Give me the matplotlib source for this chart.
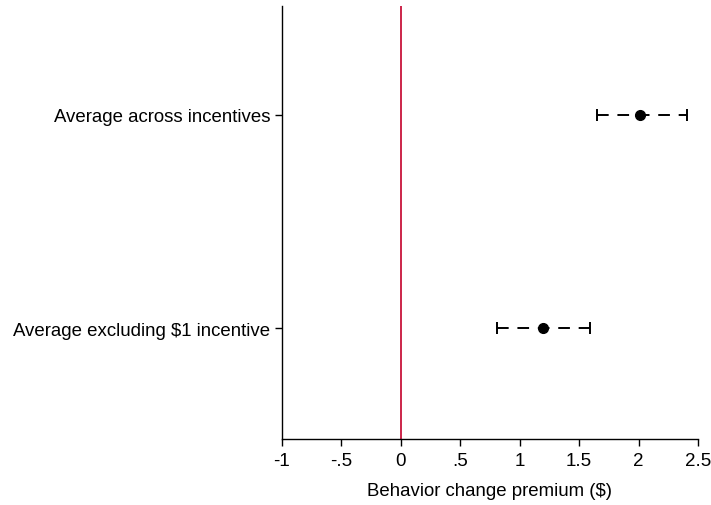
import numpy as np
import matplotlib.pyplot as plt

plt.rcParams['font.family'] = ['Liberation Sans', 'DejaVu Sans']

labels = ["Average across incentives", "Average excluding $1 incentive"]
estimates = [2.01, 1.195]
ci_low = [1.653, 0.811]
ci_high = [2.407, 1.593]
ypos = [2, 1]

xticks = [-1, -0.5, 0, 0.5, 1, 1.5, 2, 2.5]
xticklabels = ["-1", "-.5", "0", ".5", "1", "1.5", "2", "2.5"]

fig = plt.figure(figsize=(7.11, 5.06), dpi=100)
ax = fig.add_axes([0.3966, 0.1304, 0.5851, 0.8556])

est = np.array(estimates)
err = np.array([est - np.array(ci_low), np.array(ci_high) - est])

ax.axvline(0, color='#c8143c', lw=1.3, zorder=1)
eb = ax.errorbar(estimates, ypos, xerr=err, fmt='o', color='black',
                 markersize=7, capsize=4.5, elinewidth=1.4, capthick=1.4,
                 zorder=3)
eb[2][0].set_linestyle((0, (6, 4.5)))

ax.set_xlim(-1, 2.5)
ax.set_ylim(0.48, 2.51)
ax.set_xticks(xticks)
ax.set_xticklabels(xticklabels, fontsize=13.5)
ax.set_yticks(ypos)
ax.set_yticklabels(labels, fontsize=13.4)
ax.tick_params(axis='both', length=5, width=1, direction='out')
ax.tick_params(axis='x', pad=4)
ax.set_xlabel("Behavior change premium ($)", fontsize=13.4, labelpad=10)

for s in ['top', 'right']:
    ax.spines[s].set_visible(False)
for s in ['left', 'bottom']:
    ax.spines[s].set_linewidth(1)

fig.savefig("out.png", dpi=100)
